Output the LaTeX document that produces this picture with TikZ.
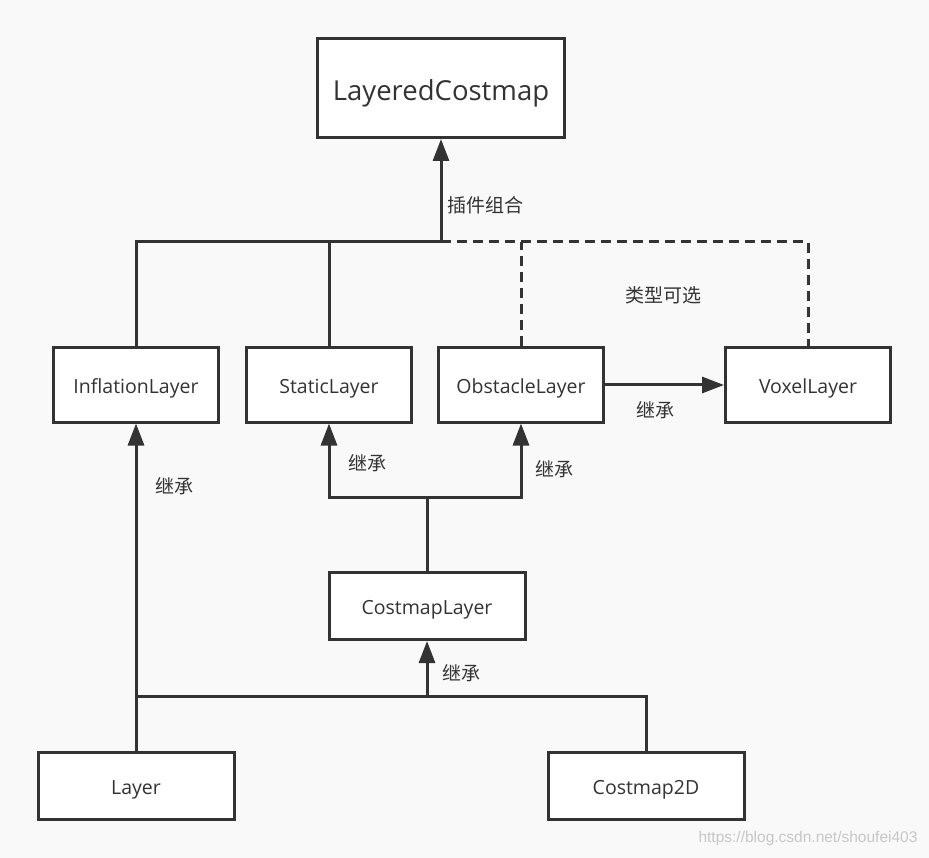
\documentclass[tikz,border=0pt]{standalone}
\usepackage{fontspec}
\setmainfont{Open Sans}
\newfontfamily\cjk{Noto Sans CJK SC}
\newfontfamily\wmfont{Liberation Sans}
\usetikzlibrary{arrows.meta}
\definecolor{bg}{HTML}{F9F9F9}
\definecolor{ink}{HTML}{333333}
\tikzset{
  cls/.style={draw=ink, line width=3pt, fill=white, inner sep=0pt, text=ink, font=\fontsize{19.5}{22}\selectfont, minimum width=165pt, minimum height=74pt, text height=17pt, text depth=0pt},
  big/.style={cls, minimum width=247pt, minimum height=99pt, font=\fontsize{27.5}{32}\selectfont, text height=25pt, text depth=0pt},
  wide/.style={cls, minimum width=196pt, minimum height=67pt},
  conn/.style={draw=ink, line width=3pt},
  dconn/.style={conn, dash pattern=on 10pt off 6pt},
  arr/.style={conn, -{Triangle[length=22pt,width=16pt]}},
  lbl/.style={text=ink, font=\cjk\fontsize{19}{22}\selectfont, inner sep=0pt},
}
\begin{document}
\begin{tikzpicture}[x=1pt,y=-1pt]
\path[use as bounding box, fill=bg] (0,0) rectangle (929,858);
% nodes
\node[big]  (LC)  at (441,88)  {LayeredCostmap};
\node[cls]  (Inf) at (136,385) {InflationLayer};
\node[cls]  (Sta) at (329,385) {StaticLayer};
\node[cls]  (Obs) at (521,385) {ObstacleLayer};
\node[cls]  (Vox) at (808,385) {VoxelLayer};
\node[wide] (CL)  at (427,606) {CostmapLayer};
\node[wide] (Lay) at (136,786) {Layer};
\node[wide] (C2D) at (646,786) {Costmap2D};
% junctions
\coordinate (j1) at (441,242);
\coordinate (j2) at (808,242);
\coordinate (j3) at (427,497);
\coordinate (j4) at (427,696);
% plugin composition
\draw[dconn] (j1) -- (j2) -- (Vox.north);
\draw[dconn] (Obs.north) -- (Obs.north |- j1);
\draw[conn] (Inf.north) |- (j1);
\draw[conn] (Sta.north) -- (Sta.north |- j1);
\draw[arr] (j1) -- (LC.south);
% Obstacle -> Voxel
\draw[arr] (Obs.east) -- (Vox.west);
% CostmapLayer -> Static, Obstacle
\draw[conn] (CL.north) -- (j3);
\draw[arr] (j3) -| (Sta.south);
\draw[arr] (j3) -| (Obs.south);
% Layer -> Inflation
\draw[arr] (Lay.north) -- (Inf.south);
% Layer, Costmap2D -> CostmapLayer
\draw[conn] (Lay.north |- j4) -- (j4);
\draw[conn] (C2D.north) |- (j4);
\draw[arr] (j4) -- (CL.south);
% labels
\node[lbl] (l1) at (485,205) {插件组合};
\node[lbl] (l2) at (663,295) {类型可选};
\node[lbl] (l3) at (655,410) {继承};
\node[lbl] (l4) at (174,486) {继承};
\node[lbl] (l5) at (367,463) {继承};
\node[lbl] (l6) at (554,469) {继承};
\node[lbl] (l7) at (461,673) {继承};
\node[text=black!22, font=\wmfont\fontsize{15.5}{18}\selectfont, inner sep=0pt] (wm) at (808,838) {https://blog.csdn.net/shoufei403};
\end{tikzpicture}
\end{document}
